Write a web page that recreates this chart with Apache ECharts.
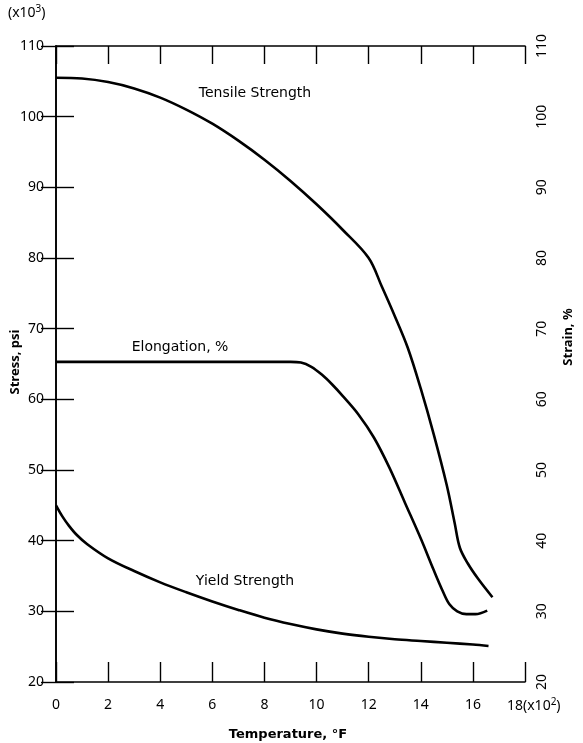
<!DOCTYPE html>
<html><head><meta charset="utf-8">
<script src="https://cdn.jsdelivr.net/npm/echarts@6/dist/echarts.min.js"></script>
<style>html,body{margin:0;padding:0;background:#fff}#c{width:583px;height:743px}</style>
</head><body><div id="c"></div>
<script>
// Data
const tensileT = [0,1,2,3,4,5,6,7,8,9,10,11,12,12.5,13,13.5,14,14.5,15,15.3,15.5,15.8,16.2,16.75];
const tensileV = [105.5,105.4,104.9,104.0,102.7,101.0,99.0,96.6,93.9,90.9,87.6,84.0,80.0,76.0,71.8,67.3,61.5,55.0,47.8,42.5,39.0,36.8,34.6,32.0];
const elongT = [0,2,4,6,8,9,9.4,9.8,10.2,10.6,11.0,11.6,12.2,12.8,13.4,14.0,14.5,14.85,15.1,15.4,15.75,16.1,16.55];
const elongV = [65.3,65.3,65.3,65.3,65.3,65.3,65.2,64.6,63.5,62.1,60.5,57.9,54.6,50.3,45.3,40.3,35.8,32.8,31.0,30.0,29.6,29.6,30.1];
const yieldT = [0,0.25,0.5,0.8,1.2,2,3,4,5,6,7,8,9,10,11,12,13,14,15,16,16.6];
const yieldV = [45.0,43.4,42.1,40.8,39.5,37.5,35.7,34.1,32.7,31.4,30.2,29.1,28.2,27.45,26.85,26.4,26.05,25.8,25.55,25.3,25.1];
const xTicks = [0,2,4,6,8,10,12,14,16,18];
const yTicks = [20,30,40,50,60,70,80,90,100,110];

const font = 'Noto Sans';
const pair = (t, v) => t.map((x, i) => [x, v[i]]);
const lineStyle = {color:'#000', width:2.6};
const mk = (name, t, v, yi) => ({
  name, type:'line', data: pair(t, v), yAxisIndex: yi, xAxisIndex: 0,
  smooth: 0.35, symbol:'none', lineStyle, z: 5
});

const axisLine = {show:true, lineStyle:{color:'#000', width:1.6}};
const chart = echarts.init(document.getElementById('c'), null, {renderer:'canvas'});
const lab = '14px "DejaVu Sans"';
chart.setOption({
  animation:false,
  backgroundColor:'#fff',
  grid:{left:56, right:58, top:46, bottom:61, containLabel:false, outerBoundsMode:'none'},
  xAxis:[
    {type:'value', position:'bottom', min:xTicks[0], max:xTicks[xTicks.length-1], interval:2,
     axisLine, splitLine:{show:false},
     axisTick:{inside:true, length:20, lineStyle:{color:'#000', width:1.4}},
     axisLabel:{margin:16, color:'#000', fontFamily:font, fontSize:14,
       formatter: v => v === 18 ? '' : String(v)}},
    {type:'value', position:'top', min:xTicks[0], max:xTicks[xTicks.length-1], interval:2,
     axisLine, splitLine:{show:false},
     axisTick:{inside:true, length:18, lineStyle:{color:'#000', width:1.4}},
     axisLabel:{show:false}}
  ],
  yAxis:[
    {type:'value', position:'left', min:yTicks[0], max:yTicks[yTicks.length-1], interval:10,
     axisLine, splitLine:{show:false},
     axisTick:{inside:true, length:18, lineStyle:{color:'#000', width:1.4}},
     axisLabel:{margin:12, color:'#000', fontFamily:font, fontSize:14}},
    {type:'value', position:'right', min:yTicks[0], max:yTicks[yTicks.length-1], interval:10,
     axisLine, splitLine:{show:false},
     axisTick:{inside:true, length:15, lineStyle:{color:'#000', width:1.4}},
     axisLabel:{margin:10, rotate:90, color:'#000', fontFamily:font, fontSize:14}}
  ],
  series:[
    mk('Tensile Strength', tensileT, tensileV, 0),
    mk('Elongation, %', elongT, elongV, 1),
    mk('Yield Strength', yieldT, yieldV, 0)
  ],
  graphic:[
    {type:'text', left:8, top:4, style:{text:'(x10{s|3})', fill:'#000', font:'14px "Noto Sans"',
      rich:{s:{fontSize:10, verticalAlign:'top', padding:[0,0,8,0], fontFamily:font}}}},
    {type:'text', left:507, top:697, style:{text:'18(x10{s|2})', fill:'#000', font:'14px "Noto Sans"',
      rich:{s:{fontSize:10, verticalAlign:'top', padding:[0,0,8,0], fontFamily:font}}}},
    {type:'text', x:255, y:93, style:{text:'Tensile Strength', fill:'#000', font:lab, align:'center', verticalAlign:'middle'}},
    {type:'text', x:180, y:347, style:{text:'Elongation, %', fill:'#000', font:lab, align:'center', verticalAlign:'middle'}},
    {type:'text', x:245, y:581, style:{text:'Yield Strength', fill:'#000', font:lab, align:'center', verticalAlign:'middle'}},
    {type:'text', x:288, y:735, style:{text:'Temperature, °F', fill:'#000', font:'bold 13px "DejaVu Sans"', align:'center', verticalAlign:'middle'}},
    {type:'text', x:15, y:362, rotation:Math.PI/2, style:{text:'Stress, psi', fill:'#000', font:'bold 13px "Noto Sans"', align:'center', verticalAlign:'middle'}},
    {type:'text', x:568, y:337, rotation:Math.PI/2, style:{text:'Strain, %', fill:'#000', font:'bold 13px "Noto Sans"', align:'center', verticalAlign:'middle'}}
  ]
});
</script></body></html>
